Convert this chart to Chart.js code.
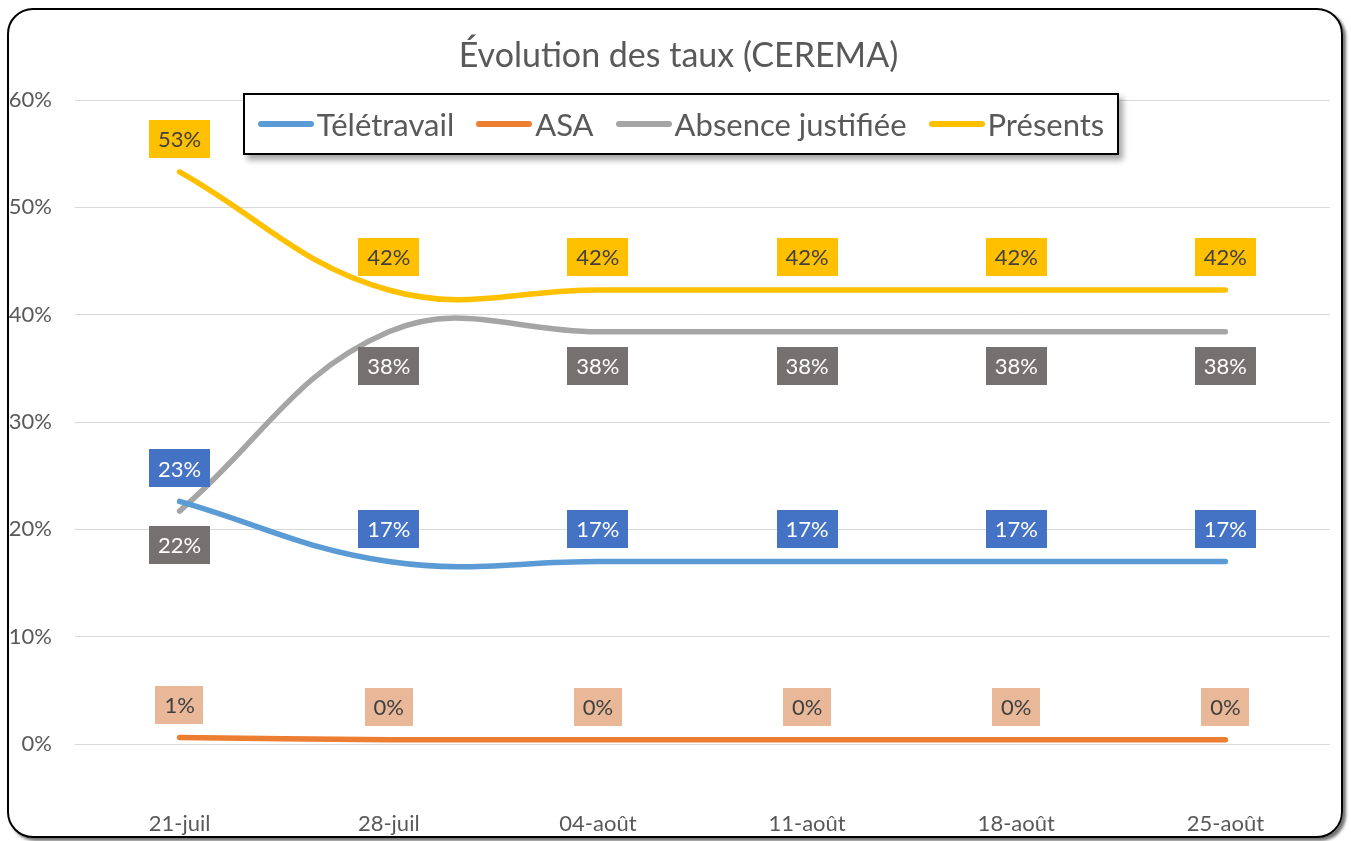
<!DOCTYPE html>
<html lang="fr">
<head>
<meta charset="utf-8">
<title>Évolution des taux (CEREMA)</title>
<script src="https://cdn.jsdelivr.net/npm/chart.js@4.4.1/dist/chart.umd.min.js"></script>
<style>
  html, body { margin: 0; padding: 0; background: #fff; }
  body { width: 1351px; height: 841px; position: relative; overflow: hidden; font-family: Lato, "Open Sans", sans-serif; }
  #frame {
    position: absolute; left: 7px; top: 8px; width: 1332px; height: 826px;
    border: 2px solid #000; border-radius: 26px;
    box-shadow: 3px 3px 3px rgba(0,0,0,0.55);
  }
  #c { position: absolute; left: 0; top: 0; }
  #title {
    position: absolute; left: 3px; top: 33px; width: 1351px; height: 42px;
    text-align: center; font-size: 34px; line-height: 42px; color: #595959;
  }
  #legend {
    position: absolute; left: 243px; top: 93px; width: 872px; height: 58px;
    border: 2px solid #000; background: #fff;
    box-shadow: 4px 5px 6px rgba(0,0,0,0.35);
    display: flex; align-items: center; justify-content: center; gap: 22px;
    font-size: 31px; color: #595959;
  }
  .item { display: flex; align-items: center; }
  .sw { width: 56px; height: 6px; border-radius: 3px; margin-right: 3px; }
</style>
</head>
<body>
<div id="frame"></div>
<canvas id="c" width="1351" height="841"></canvas>
<div id="title">Évolution des taux (CEREMA)</div>
<div id="legend"></div>
<script>
/* Évolution des taux — CEREMA */

const categories  = ['21-juil', '28-juil', '04-août', '11-août', '18-août', '25-août'];
const teletravail = [22.6, 17.0, 17.0, 17.0, 17.0, 17.0];
const asa         = [0.6, 0.4, 0.4, 0.4, 0.4, 0.4];
const absence     = [21.7, 38.4, 38.4, 38.4, 38.4, 38.4];
const presents    = [53.3, 42.3, 42.3, 42.3, 42.3, 42.3];
const yTicks      = [0, 10, 20, 30, 40, 50, 60];

const FONT = 'Lato, "Open Sans", sans-serif';

const series = [
  { label: 'Télétravail',        data: teletravail, line: '#5B9BD5', box: '#4472C4', text: '#fff',    below: false },
  { label: 'ASA',                data: asa,         line: '#ED7D31', box: '#E8B898', text: '#404040', below: false },
  { label: 'Absence justifiée',  data: absence,     line: '#A5A5A5', box: '#767171', text: '#fff',    below: true  },
  { label: 'Présents',           data: presents,    line: '#FFC000', box: '#FFC000', text: '#404040', below: false },
];

// boxed value labels, drawn over the lines
const valueLabels = {
  id: 'valueLabels',
  afterDatasetsDraw(chart) {
    const ctx = chart.ctx;
    ctx.save();
    ctx.font = '22px ' + FONT;
    ctx.textAlign = 'center';
    ctx.textBaseline = 'middle';
    chart.data.datasets.forEach((ds, i) => {
      const s = series[i];
      chart.getDatasetMeta(i).data.forEach((pt, j) => {
        const txt = Math.round(ds.data[j]) + '%';
        const w = ctx.measureText(txt).width + 18;
        const h = 38;
        const cy = pt.y + (s.below ? 34 : -33);
        ctx.fillStyle = s.box;
        ctx.fillRect(Math.round(pt.x - w / 2), Math.round(cy - h / 2), Math.round(w), h);
        ctx.fillStyle = s.text;
        ctx.fillText(txt, pt.x, cy + 1);
      });
    });
    ctx.restore();
  }
};

new Chart(document.getElementById('c'), {
  type: 'line',
  data: {
    labels: categories,
    datasets: series.map(s => ({
      label: s.label,
      data: s.data,
      borderColor: s.line,
      backgroundColor: s.line,
      borderWidth: 5.5,
      borderCapStyle: 'round',
      tension: 0.4,
      pointRadius: 0,
      fill: false,
    }))
  },
  options: {
    responsive: false,
    animation: false,
    devicePixelRatio: 1,
    layout: { padding: { left: 0, right: 21, top: 100, bottom: 0 } },
    plugins: {
      legend: { display: false },
      tooltip: { enabled: false },
      title: { display: false }
    },
    scales: {
      x: {
        offset: true,
        grid: { display: false, drawTicks: false },
        border: { display: false },
        ticks: { color: '#595959', font: { family: FONT, size: 22 }, padding: 67, maxRotation: 0 },
        afterFit: s => { s.height = 97; }
      },
      y: {
        min: 0,
        max: 60,
        afterBuildTicks: s => { s.ticks = yTicks.map(v => ({ value: v })); },
        grid: { color: '#D9D9D9', lineWidth: 1, drawTicks: false },
        border: { display: false },
        ticks: { color: '#595959', font: { family: FONT, size: 22 }, padding: 23, callback: v => v + '%' },
        afterFit: s => { s.width = 75; }
      }
    }
  },
  plugins: [valueLabels]
});

document.getElementById('legend').innerHTML = series.map(s =>
  `<div class="item"><div class="sw" style="background:${s.line}"></div><span>${s.label}</span></div>`
).join('');
</script>
</body>
</html>
